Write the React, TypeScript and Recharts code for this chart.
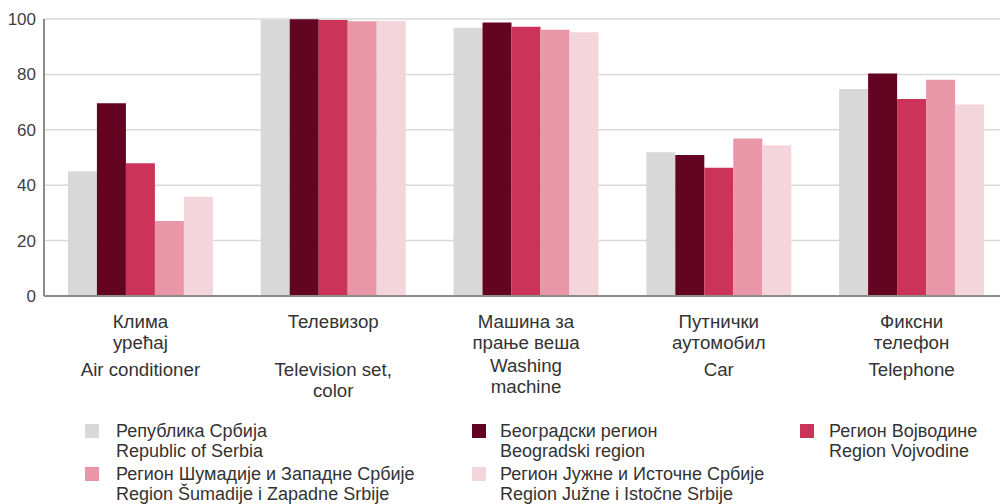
import { BarChart, Bar, XAxis, YAxis, CartesianGrid, Legend } from "recharts";

const categoriesSr = [
  ["Клима", "урећај"],
  ["Телевизор"],
  ["Машина за", "прање веша"],
  ["Путнички", "аутомобил"],
  ["Фиксни", "телефон"],
];
const categoriesEn = [
  ["Air conditioner"],
  ["Television set,", "color"],
  ["Washing", "machine"],
  ["Car"],
  ["Telephone"],
];

const seriesSr = [
  "Република Србија",
  "Београдски регион",
  "Регион Војводине",
  "Регион Шумадије и Западне Србије",
  "Регион Јужне и Источне Србије",
];
const seriesLat = [
  "Republic of Serbia",
  "Beogradski region",
  "Region Vojvodine",
  "Region Šumadije i Zapadne Srbije",
  "Region Južne i Istočne Srbije",
];
const seriesColors = ["#d8d8d8", "#620422", "#cc3358", "#e896a8", "#f5d5dc"];

const serbia = [45.0, 99.7, 96.8, 51.9, 74.7];
const beograd = [69.6, 99.9, 98.7, 50.9, 80.3];
const vojvodina = [47.9, 99.6, 97.2, 46.3, 71.1];
const sumadija = [27.1, 99.2, 96.1, 56.9, 78.1];
const juzna = [35.8, 99.3, 95.2, 54.4, 69.1];

const yTicks = [0, 20, 40, 60, 80, 100];

const seriesValues = [serbia, beograd, vojvodina, sumadija, juzna];
const data = categoriesEn.map((c, i) => {
  const row: Record<string, number | string> = { key: c.join(" ") };
  seriesSr.forEach((s, j) => {
    row[s] = seriesValues[j][i];
  });
  return row;
});

const FONT = '"Liberation Sans", Arial, Helvetica, sans-serif';
const TEXT_SIZE = 18.7;
const LEGEND_SIZE = 18;

function CategoryTick(props: any) {
  const { x, y, payload } = props;
  const i = payload.index;
  const sr = categoriesSr[i] || [];
  const en = categoriesEn[i] || [];
  // the two-line english label sits a little higher in the original
  const enTop = en.length > 1 && sr.length > 1 ? 69 : 73;
  return (
    <g>
      {sr.map((t, k) => (
        <text
          key={"s" + k}
          x={x}
          y={y + 25 + k * 21}
          textAnchor="middle"
          dominantBaseline="central"
          fontSize={TEXT_SIZE}
          fill="#333333"
          fontFamily={FONT}
        >
          {t}
        </text>
      ))}
      {en.map((t, k) => (
        <text
          key={"e" + k}
          x={x}
          y={y + enTop + k * 21}
          textAnchor="middle"
          dominantBaseline="central"
          fontSize={TEXT_SIZE}
          fill="#333333"
          fontFamily={FONT}
        >
          {t}
        </text>
      ))}
    </g>
  );
}

const legendSquareX = [85, 472, 800];
const legendTextX = [116, 500, 829];
const legendRowTop = [11, 54];

function LegendContent(props: any) {
  const payload = props.payload || [];
  return (
    <div style={{ position: "relative", width: 1000, height: 94, fontFamily: FONT }}>
      {payload.map((entry: any) => {
        const i = seriesSr.indexOf(entry.value);
        const col = i % 3;
        const row = Math.floor(i / 3);
        return (
          <div key={entry.value}>
            <div
              style={{
                position: "absolute",
                left: legendSquareX[col],
                top: legendRowTop[row] + 3,
                width: 14,
                height: 14,
                background: entry.color,
              }}
            />
            <div
              style={{
                position: "absolute",
                left: legendTextX[col],
                top: legendRowTop[row],
                fontSize: LEGEND_SIZE,
                lineHeight: "20px",
                color: "#333333",
                whiteSpace: "nowrap",
              }}
            >
              <div>{entry.value}</div>
              <div>{seriesLat[i]}</div>
            </div>
          </div>
        );
      })}
    </div>
  );
}

export default function App() {
  return (
    <div
      style={{
        position: "absolute",
        left: 0,
        top: 0,
        width: 1000,
        height: 504,
        overflow: "hidden",
        background: "#ffffff",
        fontFamily: FONT,
      }}
    >
      <BarChart
        width={1008}
        height={504}
        data={data}
        margin={{ top: 19, right: 0, bottom: 0, left: 0 }}
        barCategoryGap="12.4%"
        barGap={0}
      >
        <CartesianGrid vertical={false} stroke="#d9d9d9" strokeWidth={1.5} />
        <XAxis
          dataKey="key"
          height={208}
          tickLine={false}
          tickSize={0}
          tickMargin={0}
          axisLine={{ stroke: "#8c8c8c", strokeWidth: 2 }}
          tick={<CategoryTick />}
          interval={0}
        />
        <YAxis
          width={44}
          domain={[0, 100]}
          ticks={yTicks}
          tickLine={false}
          axisLine={{ stroke: "#8c8c8c", strokeWidth: 2 }}
          tick={{ fontSize: 17, fill: "#404040", fontFamily: FONT }}
        />
        <Legend
          layout="horizontal"
          verticalAlign="middle"
          align="center"
          wrapperStyle={{ top: 410, left: 0, width: 1000, height: 94 }}
          content={<LegendContent />}
        />
        {seriesSr.map((s, j) => (
          <Bar key={s} dataKey={s} name={s} fill={seriesColors[j]} isAnimationActive={false} />
        ))}
      </BarChart>
    </div>
  );
}
